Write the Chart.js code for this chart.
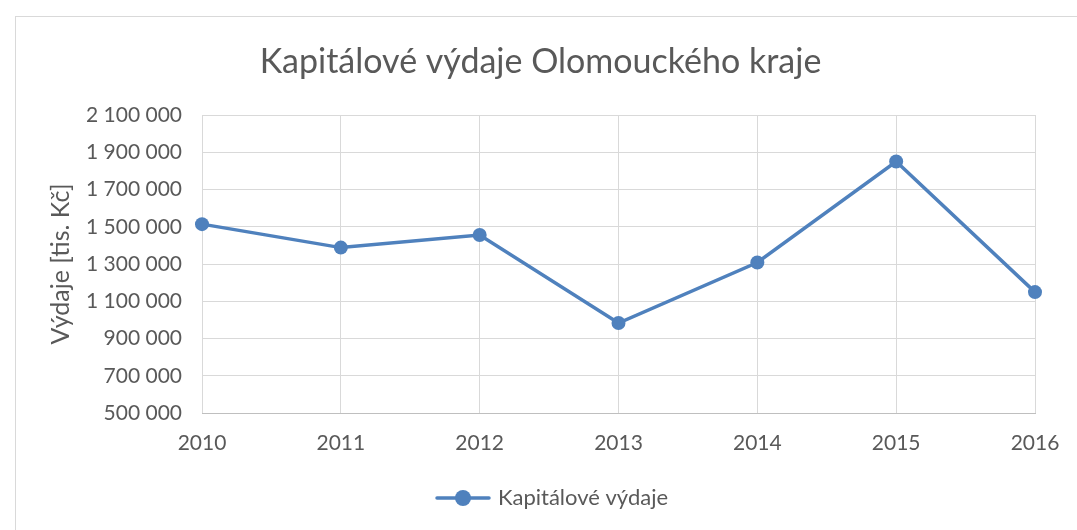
<!DOCTYPE html>
<html>
<head>
<meta charset="utf-8">
<script src="https://cdn.jsdelivr.net/npm/chart.js@4.4.0/dist/chart.umd.min.js"></script>
<style>
  html, body { margin: 0; padding: 0; background: #fff; }
  #wrap { width: 1077px; height: 530px; }
</style>
</head>
<body>
<div id="wrap"><canvas id="chart"></canvas></div>
<script>
// data
const years = ['2010', '2011', '2012', '2013', '2014', '2015', '2016'];
const vydaje = [1514000, 1388000, 1456000, 983000, 1308000, 1850000, 1149000];
const seriesName = 'Kapitálové výdaje';

const blue = '#4f81bd';
const textColor = '#595959';
const gridColor = '#d9d9d9';
const fontFamily = 'Lato, "Noto Sans", sans-serif';

// legend marker: line with circle
function legendMarker() {
    const c = document.createElement('canvas');
    c.width = 56; c.height = 18;
    const ctx = c.getContext('2d');
    ctx.strokeStyle = blue;
    ctx.lineWidth = 3.5;
    ctx.lineCap = 'round';
    ctx.beginPath();
    ctx.moveTo(2, 9); ctx.lineTo(54, 9);
    ctx.stroke();
    ctx.fillStyle = blue;
    ctx.beginPath();
    ctx.arc(28, 9, 8, 0, Math.PI * 2);
    ctx.fill();
    return c;
}

function formatNum(v) {
    return String(v).replace(/\B(?=(\d{3})+(?!\d))/g, ' ');
}

// outer frame like in the sheet
const framePlugin = {
    id: 'frame',
    beforeDraw(chart) {
        const ctx = chart.ctx;
        ctx.save();
        ctx.strokeStyle = gridColor;
        ctx.lineWidth = 1;
        ctx.strokeRect(15.5, 16.5, 1200, 700);
        ctx.restore();
    }
};

// legend sits a bit right of the canvas centre in the original
const legendShift = {
    id: 'legendShift',
    afterLayout(chart) {
        if (chart.legend) {
            chart.legend.left += 13;
            chart.legend.right += 13;
        }
    }
};

const marker = legendMarker();

new Chart(document.getElementById('chart'), {
    type: 'line',
    data: {
        labels: years,
        datasets: [{
            label: seriesName,
            data: vydaje,
            borderColor: blue,
            backgroundColor: blue,
            borderWidth: 3.5,
            pointRadius: 7,
            pointHoverRadius: 7,
            pointBackgroundColor: blue,
            pointBorderWidth: 0,
            tension: 0
        }]
    },
    options: {
        responsive: true,
        maintainAspectRatio: false,
        animation: false,
        layout: { padding: { top: 0, right: 42, bottom: 11, left: 46 } },
        plugins: {
            title: {
                display: true,
                text: 'Kapitálové výdaje Olomouckého kraje',
                color: textColor,
                font: { family: fontFamily, size: 34, weight: 'normal' },
                padding: { top: 41.6, bottom: 32.6 }
            },
            legend: {
                position: 'bottom',
                labels: {
                    color: textColor,
                    font: { family: fontFamily, size: 22 },
                    usePointStyle: true,
                    pointStyleWidth: 48,
                    boxWidth: 56,
                    boxHeight: 18,
                    padding: 12,
                    generateLabels: (chart) => [{
                        text: seriesName,
                        pointStyle: marker,
                        fontColor: textColor,
                        datasetIndex: 0
                    }]
                }
            },
            tooltip: { enabled: false }
        },
        scales: {
            x: {
                offset: false,
                grid: { color: gridColor, drawTicks: false },
                border: { color: '#bfbfbf' },
                ticks: {
                    color: textColor,
                    padding: 17.6,
                    font: { family: fontFamily, size: 21 },
                    maxRotation: 0
                },
                afterFit: (s) => { s.height = 62; }
            },
            y: {
                min: 500000,
                max: 2100000,
                grid: { color: gridColor, drawTicks: false },
                border: { display: false },
                ticks: {
                    stepSize: 200000,
                    color: textColor,
                    padding: 20,
                    font: { family: fontFamily, size: 21 },
                    callback: (v) => formatNum(v)
                },
                title: {
                    display: true,
                    text: 'Výdaje [tis. Kč]',
                    color: textColor,
                    font: { family: fontFamily, size: 25 },
                    padding: { top: 0, bottom: 0 }
                },
                afterFit: (s) => { s.width = 156; }
            }
        }
    },
    plugins: [framePlugin, legendShift]
});
</script>
</body>
</html>
